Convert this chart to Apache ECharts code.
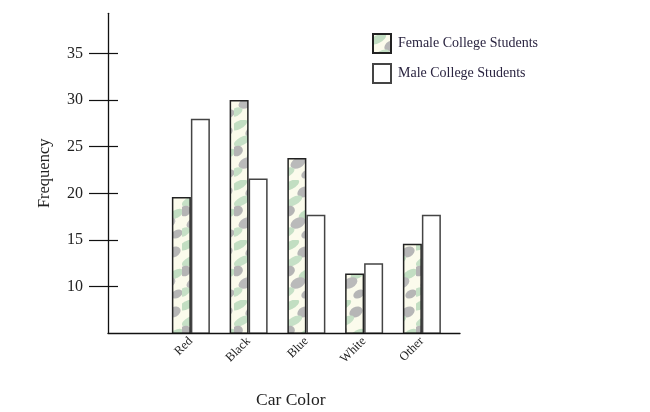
<!DOCTYPE html>
<html>
<head>
<meta charset="utf-8">
<script src="https://cdn.jsdelivr.net/npm/echarts@6/dist/echarts.min.js"></script>
<style>
html,body{margin:0;padding:0;background:#fff;}
#chart{width:650px;height:412px;}
</style>
</head>
<body>
<div id="chart"></div>
<script>
// ---- data ----
var categories = ['Red', 'Black', 'Blue', 'White', 'Other'];
var femaleValues = [19.6, 30.0, 23.8, 11.4, 14.6];
var maleValues = [28.0, 21.6, 17.7, 12.5, 17.7];
var seriesNames = ['Female College Students', 'Male College Students'];
var yMin = 5, yMax = 39.3, yStep = 5;

// ---- camouflage texture for the female bars (styling only) ----
function makePattern() {
  var c = document.createElement('canvas');
  c.width = 26; c.height = 60;
  var g = c.getContext('2d');
  g.fillStyle = '#fbfbec';
  g.fillRect(0, 0, c.width, c.height);
  var blobs = [
    ['#c2dec2', 5, 5, 9, 4], ['#b6b6b6', 18, 12, 7, 5], ['#c6e0c6', 8, 21, 9, 4],
    ['#b4b4b4', 3, 31, 6, 5], ['#c2dec2', 20, 34, 8, 4], ['#bababa', 12, 43, 8, 5],
    ['#c6e0c6', 2, 52, 7, 4], ['#b6b6b6', 21, 54, 6, 4]
  ];
  blobs.forEach(function (b) {
    g.fillStyle = b[0];
    g.beginPath();
    g.ellipse(b[1], b[2], b[3], b[4], -0.5, 0, Math.PI * 2);
    g.fill();
  });
  return c;
}
var femaleFill = { image: makePattern(), repeat: 'repeat' };

var serif = '"Liberation Serif", "Times New Roman", serif';
var gridTop = 13.3, gridBottom = 412 - 333.3;

var chart = echarts.init(document.getElementById('chart'));
chart.setOption({
  animation: false,
  backgroundColor: '#fff',
  title: {
    text: 'Car Color', left: 251, top: 386,
    textStyle: { fontFamily: serif, fontSize: 17.5, fontWeight: 'normal', color: '#222' }
  },
  legend: {
    orient: 'vertical', left: 367, top: 28,
    itemWidth: 18, itemHeight: 19, itemGap: 9,
    icon: 'rect',
    data: seriesNames,
    textStyle: { fontFamily: serif, fontSize: 14, color: '#2a2440', padding: [0, 0, 0, 2] }
  },
  grid: [
    { left: 108, right: 190, top: gridTop, bottom: gridBottom },     // frame
    { left: 89, width: 29, top: gridTop, bottom: gridBottom },        // tick marks
    { left: 162, width: 288.75, top: gridTop, bottom: gridBottom }    // bars
  ],
  xAxis: [
    { gridIndex: 0, type: 'category', data: [], z: 10,
      axisLine: { lineStyle: { color: '#111', width: 1.3 } },
      axisTick: { show: false }, axisLabel: { show: false }, splitLine: { show: false } },
    { gridIndex: 1, type: 'category', data: [], show: false },
    { gridIndex: 2, type: 'category', data: categories,
      axisLine: { show: false }, axisTick: { show: false },
      axisLabel: { rotate: 45, margin: 6, fontFamily: serif, fontSize: 12.5, color: '#222' } }
  ],
  yAxis: [
    { gridIndex: 0, type: 'value', min: yMin, max: yMax, interval: yStep, z: 10,
      name: 'Frequency', nameLocation: 'middle', nameGap: 55,
      nameTextStyle: { fontFamily: serif, fontSize: 16.5, color: '#222' },
      axisLine: { show: true, lineStyle: { color: '#111', width: 1.3 } },
      axisTick: { show: false },
      axisLabel: { margin: 25, showMinLabel: false, showMaxLabel: false,
        fontFamily: serif, fontSize: 16, color: '#222' },
      splitLine: { show: false } },
    { gridIndex: 1, type: 'value', min: yMin, max: yMax, interval: yStep,
      axisLine: { show: false }, axisTick: { show: false }, axisLabel: { show: false },
      splitLine: { show: true, showMinLine: false, showMaxLine: false,
        lineStyle: { color: '#111', width: 1.2 } } },
    { gridIndex: 2, type: 'value', min: yMin, max: yMax, interval: yStep, show: false,
      splitLine: { show: false } }
  ],
  series: [
    { name: seriesNames[0], type: 'bar', xAxisIndex: 2, yAxisIndex: 2,
      data: femaleValues, barWidth: 19, barGap: '0%',
      itemStyle: { color: femaleFill, borderColor: '#222', borderWidth: 1.5 } },
    { name: seriesNames[1], type: 'bar', xAxisIndex: 2, yAxisIndex: 2,
      data: maleValues, barWidth: 19, barGap: '0%',
      itemStyle: { color: '#ffffff', borderColor: '#444', borderWidth: 1.5 } }
  ]
});
</script>
</body>
</html>
